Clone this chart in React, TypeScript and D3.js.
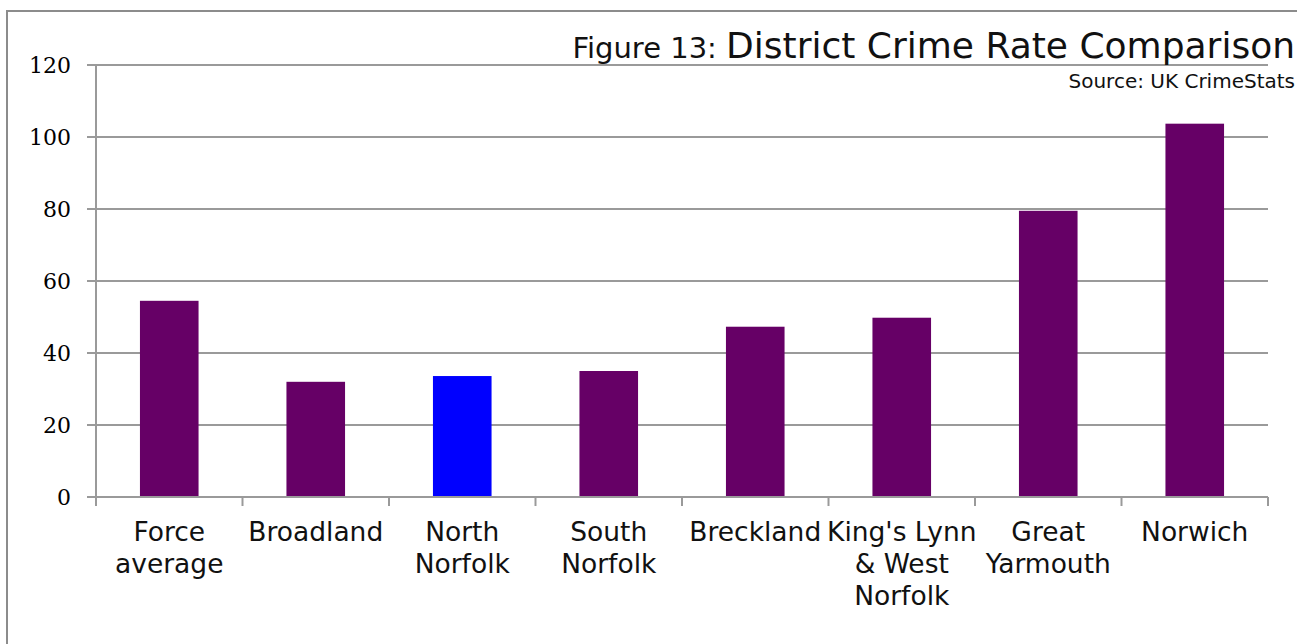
import React from "react";
import * as d3 from "d3";

const categories: string[][] = [
  ["Force", "average"],
  ["Broadland"],
  ["North", "Norfolk"],
  ["South", "Norfolk"],
  ["Breckland"],
  ["King's Lynn", "& West", "Norfolk"],
  ["Great", "Yarmouth"],
  ["Norwich"],
];
const values: number[] = [54.5, 32.0, 33.6, 35.0, 47.3, 49.8, 79.5, 103.7];
const highlight: string = "North Norfolk";
const yTicks: number[] = [0, 20, 40, 60, 80, 100, 120];
const titleSmall = "Figure 13: ";
const titleLarge = "District Crime Rate Comparison";
const sourceText = "Source: UK CrimeStats";

const W = 1297;
const H = 644;
const left = 96;
const right = 1268;
const top = 65;
const bottom = 497;
const labelFont = "'DejaVu Sans', sans-serif";

export default function App() {
  const names = categories.map((c) => c.join(" "));
  const x = d3
    .scaleBand<string>()
    .domain(names)
    .range([left, right])
    .paddingInner(0.6)
    .paddingOuter(0.3);
  const y = d3.scaleLinear().domain([0, 120]).range([bottom, top]);
  const boundaries = d3.range(names.length + 1).map((i) => left + i * ((right - left) / names.length));
  const grid = "#9a9a9a";

  return (
    <svg
      width={W}
      height={H}
      style={{ position: "absolute", left: 0, top: 0, background: "#fff" }}
    >
      <rect x={0} y={0} width={W} height={H} fill="#fff" />
      {/* frame */}
      <line x1={7} y1={10} x2={7} y2={H} stroke="#8c8c8c" strokeWidth={2} />
      <line x1={6} y1={11} x2={W} y2={11} stroke="#8c8c8c" strokeWidth={2} />

      {/* gridlines */}
      {yTicks.map((t) => (
        <line key={t} x1={87} x2={right} y1={y(t)} y2={y(t)} stroke={grid} strokeWidth={2} />
      ))}
      {yTicks.map((t) => (
        <text
          key={"l" + t}
          x={71}
          y={y(t)}
          dy="0.35em"
          textAnchor="end"
          fontFamily="'DejaVu Serif', serif"
          fontSize={22}
          fill="#000"
        >
          {t}
        </text>
      ))}

      {/* bars */}
      {names.map((n, i) => (
        <rect
          key={n}
          x={x(n)}
          y={y(values[i])}
          width={x.bandwidth()}
          height={y(0) - y(values[i])}
          fill={n === highlight ? "#0000ff" : "#660066"}
        />
      ))}

      {/* axes */}
      <line x1={left} x2={left} y1={top} y2={bottom + 8} stroke={grid} strokeWidth={2} />
      <line x1={87} x2={right} y1={bottom} y2={bottom} stroke={grid} strokeWidth={2} />
      {boundaries.map((b, i) => (
        <line key={"t" + i} x1={b} x2={b} y1={bottom} y2={bottom + 9} stroke={grid} strokeWidth={2} />
      ))}

      {/* x labels */}
      {categories.map((lines, i) => (
        <text
          key={"x" + i}
          x={(x(names[i]) as number) + x.bandwidth() / 2}
          y={541}
          textAnchor="middle"
          fontFamily={labelFont}
          fontSize={26.5}
          fill="#111"
        >
          {lines.map((ln, j) => (
            <tspan key={j} x={(x(names[i]) as number) + x.bandwidth() / 2} y={541 + j * 32}>
              {ln}
            </tspan>
          ))}
        </text>
      ))}

      {/* title */}
      <text x={1295} y={58} textAnchor="end" fontFamily={labelFont} fill="#111">
        <tspan fontSize={29}>{titleSmall}</tspan>
        <tspan fontSize={36}>{titleLarge}</tspan>
      </text>
      <text x={1295} y={88} textAnchor="end" fontFamily={labelFont} fontSize={20} fill="#111">
        {sourceText}
      </text>
    </svg>
  );
}
